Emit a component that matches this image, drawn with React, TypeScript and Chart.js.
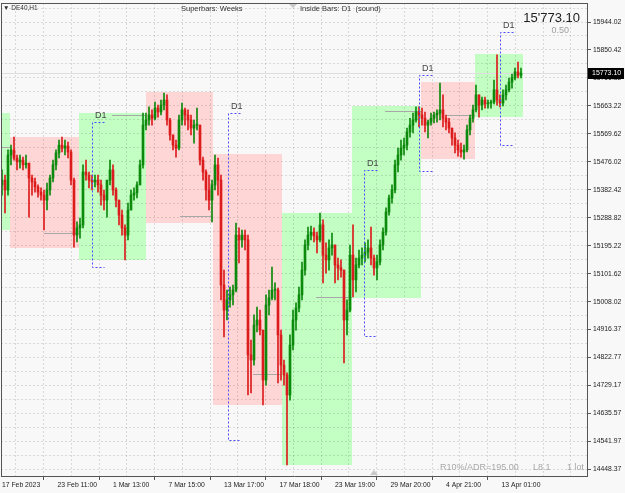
import React, { useEffect, useRef } from 'react';
import { Chart, registerables } from 'chart.js';

Chart.register(...registerables);

// ---- axis labels ----
const timeLabels = ['17 Feb 2023', '23 Feb 11:00', '1 Mar 13:00', '7 Mar 15:00', '13 Mar 17:00', '17 Mar 18:00', '23 Mar 19:00', '29 Mar 20:00', '4 Apr 21:00', '13 Apr 01:00'];
const priceLabels = ['15944.02', '15850.42', '15756.82', '15663.22', '15569.62', '15476.02', '15382.42', '15288.82', '15195.22', '15101.62', '15008.02', '14916.37', '14822.77', '14729.17', '14635.57', '14541.97', '14448.37'];

// ---- candles (open = previous close) ----
const firstOpen = 15399;
const highs = [15449, 15432, 15516, 15532, 15559, 15499, 15499, 15492, 15499, 15466, 15432, 15422, 15399, 15389, 15382, 15405, 15432, 15482, 15516, 15549, 15559, 15549, 15542, 15516, 15422, 15275, 15288, 15466, 15482, 15442, 15432, 15432, 15432, 15415, 15382, 15399, 15482, 15466, 15389, 15348, 15315, 15265, 15338, 15382, 15389, 15409, 15482, 15639, 15639, 15660, 15650, 15676, 15666, 15683, 15706, 15700, 15622, 15566, 15549, 15633, 15673, 15656, 15650, 15633, 15616, 15656, 15599, 15492, 15449, 15432, 15415, 15499, 15489, 15432, 15114, 15047, 15057, 15064, 15271, 15255, 15248, 15248, 15231, 14880, 14964, 14990, 14980, 14913, 15031, 15047, 15124, 15071, 15054, 14913, 14813, 14770, 14897, 14980, 15004, 15057, 15141, 15215, 15258, 15261, 15255, 15241, 15305, 15282, 15205, 15215, 15238, 15198, 15154, 15148, 15114, 15014, 15198, 15265, 15154, 15181, 15188, 15205, 15215, 15258, 15164, 15164, 15215, 15255, 15322, 15365, 15399, 15482, 15522, 15549, 15556, 15589, 15622, 15639, 15660, 15660, 15656, 15643, 15616, 15639, 15643, 15650, 15740, 15700, 15633, 15622, 15589, 15573, 15549, 15539, 15532, 15599, 15633, 15666, 15733, 15700, 15693, 15693, 15683, 15683, 15750, 15834, 15700, 15717, 15733, 15756, 15770, 15790, 15810, 15790];
const lows = [15365, 15305, 15365, 15466, 15482, 15449, 15455, 15449, 15455, 15291, 15365, 15375, 15358, 15348, 15248, 15315, 15365, 15409, 15449, 15489, 15509, 15499, 15489, 15399, 15191, 15208, 15221, 15255, 15415, 15389, 15382, 15392, 15375, 15331, 15315, 15291, 15399, 15365, 15325, 15265, 15231, 15148, 15215, 15315, 15348, 15355, 15399, 15455, 15583, 15599, 15599, 15616, 15626, 15633, 15650, 15599, 15549, 15516, 15492, 15516, 15599, 15599, 15583, 15566, 15539, 15583, 15466, 15415, 15348, 15315, 15275, 15382, 15365, 15014, 14890, 14947, 14990, 14997, 15041, 15138, 15191, 15181, 14696, 14703, 14796, 14907, 14897, 14663, 14729, 14964, 15014, 15014, 14736, 14746, 14729, 14462, 14679, 14847, 14913, 14974, 15014, 15097, 15181, 15215, 15208, 15171, 15208, 15071, 15104, 15114, 15164, 15071, 15081, 15090, 14803, 14897, 14974, 15024, 15041, 15121, 15131, 15141, 15154, 15131, 15097, 15081, 15131, 15181, 15231, 15298, 15338, 15372, 15442, 15482, 15499, 15516, 15559, 15573, 15609, 15593, 15599, 15576, 15556, 15599, 15606, 15609, 15616, 15593, 15583, 15573, 15532, 15506, 15495, 15492, 15485, 15509, 15566, 15609, 15643, 15626, 15650, 15656, 15656, 15656, 15670, 15666, 15660, 15663, 15683, 15710, 15723, 15750, 15757, 15757];
const closes = [15415, 15382, 15499, 15516, 15489, 15476, 15482, 15466, 15472, 15422, 15409, 15392, 15375, 15365, 15348, 15382, 15422, 15466, 15506, 15532, 15522, 15529, 15509, 15415, 15231, 15255, 15265, 15442, 15432, 15415, 15409, 15415, 15399, 15365, 15348, 15415, 15449, 15382, 15348, 15298, 15255, 15231, 15315, 15365, 15372, 15399, 15466, 15599, 15616, 15633, 15622, 15656, 15643, 15666, 15683, 15616, 15566, 15532, 15522, 15616, 15650, 15633, 15616, 15589, 15599, 15599, 15482, 15442, 15382, 15348, 15399, 15466, 15415, 15064, 14980, 15014, 15031, 15047, 15231, 15215, 15231, 15215, 14830, 14813, 14930, 14947, 14913, 14746, 14997, 15021, 15047, 15047, 14897, 14796, 14763, 14696, 14863, 14947, 14987, 15031, 15114, 15198, 15231, 15241, 15228, 15215, 15265, 15164, 15148, 15188, 15198, 15131, 15121, 15114, 14947, 14980, 15164, 15081, 15131, 15154, 15164, 15174, 15188, 15154, 15121, 15141, 15198, 15241, 15308, 15355, 15382, 15466, 15499, 15522, 15532, 15576, 15599, 15616, 15643, 15633, 15622, 15599, 15609, 15622, 15633, 15639, 15650, 15622, 15609, 15589, 15556, 15532, 15516, 15509, 15516, 15583, 15622, 15650, 15700, 15666, 15683, 15670, 15673, 15676, 15717, 15683, 15673, 15700, 15717, 15743, 15757, 15777, 15766, 15773.1];

// ---- weekly superbars ----
const weekEdges = [-0.67, 2.5, 25.5, 48, 70.5, 93.5, 116.5, 139.5, 157.5, 173.5];
const weekHighs = [15639, 15559, 15639, 15710, 15502, 15305, 15663, 15743, 15837];
const weekLows = [15248, 15188, 15148, 15271, 14663, 14462, 15021, 15485, 15626];
const weekUp = [true, false, true, false, false, true, true, false, true];
const weekLineStart = [0, 14, 36.67, 59.33, 83.67, 104.67, 127.67, 148];
const weekLineLevel = [15525, 15238, 15633, 15295, 14766, 15024, 15646, 15633];

// ---- D1 inside-bar markers ----
const d1Start = [30, 75.33, 120.67, 139, 166];
const d1End = [34, 79.33, 125, 143.33, 170.33];
const d1High = [15609, 15639, 15449, 15766, 15910];
const d1Low = [15124, 14545, 14893, 15445, 15532];

const UP = '#0c8a0c';
const DOWN = '#dc1c1c';
const FONT = '"Liberation Sans", Arial, sans-serif';

export default function App() {
  const ref = useRef<HTMLCanvasElement>(null);
  useEffect(() => {
    document.body.style.margin = '0';
    const canvas = ref.current as HTMLCanvasElement;
    const opens = closes.map((c, i) => (i === 0 ? firstOpen : closes[i - 1]));
    const colors = closes.map((c, i) => (c >= opens[i] ? UP : DOWN));
    const bodies = closes.map((c, i) => ({ x: i, y: [opens[i], c] }));
    const wicks = closes.map((c, i) => ({ x: i, y: [lows[i], highs[i]] }));

    const majors = priceLabels.map(Number);
    const yTicks: any[] = [];
    yTicks.push({ value: majors[0] + (majors[0] - majors[1]) / 2, label: '' });
    majors.forEach((v, i) => {
      yTicks.push({ value: v, label: priceLabels[i] });
      if (i < majors.length - 1) yTicks.push({ value: (v + majors[i + 1]) / 2, label: '' });
    });
    yTicks.sort((a, b) => a.value - b.value);

    const xTicks: any[] = [];
    for (let k = 0; k <= 21; k++) {
      xTicks.push({ value: 9.25 * k, label: k % 2 === 0 ? timeLabels[k / 2] || '' : '' });
    }

    const bgPlugin = {
      id: 'bgBoxes',
      beforeDraw(chart: any) {
        const { ctx, chartArea: ca, scales } = chart;
        const x = scales.x, y = scales.y;
        ctx.save();
        ctx.fillStyle = '#f8f8f8';
        ctx.fillRect(0, 0, chart.width, chart.height);
        ctx.beginPath();
        ctx.rect(ca.left, ca.top, ca.right - ca.left, ca.bottom - ca.top);
        ctx.clip();
        for (let k = 0; k < weekHighs.length; k++) {
          const x0 = Math.round(x.getPixelForValue(weekEdges[k]));
          const x1 = Math.round(x.getPixelForValue(weekEdges[k + 1]));
          const y0 = Math.round(y.getPixelForValue(weekHighs[k]));
          const y1 = Math.round(y.getPixelForValue(weekLows[k]));
          ctx.fillStyle = weekUp[k] ? '#c3fec3' : '#ffd6d6';
          ctx.fillRect(x0, y0, x1 - x0, y1 - y0);
        }
        ctx.restore();
      },
      beforeDatasetsDraw(chart: any) {
        const { ctx, chartArea: ca, scales } = chart;
        const x = scales.x, y = scales.y;
        ctx.save();
        ctx.beginPath();
        ctx.rect(ca.left, ca.top, ca.right - ca.left, ca.bottom - ca.top);
        ctx.clip();
        ctx.strokeStyle = '#a8a8a8';
        ctx.lineWidth = 1;
        for (let k = 0; k < weekLineLevel.length; k++) {
          const yy = Math.round(y.getPixelForValue(weekLineLevel[k])) + 0.5;
          ctx.beginPath();
          ctx.moveTo(Math.round(x.getPixelForValue(weekLineStart[k])), yy);
          ctx.lineTo(Math.round(x.getPixelForValue(weekEdges[k + 1])), yy);
          ctx.stroke();
        }
        const by = Math.round(y.getPixelForValue(closes[closes.length - 1])) + 0.5;
        ctx.strokeStyle = '#dedede';
        ctx.beginPath();
        ctx.moveTo(ca.left, by);
        ctx.lineTo(ca.right, by);
        ctx.stroke();
        ctx.restore();
      },
      afterDraw(chart: any) {
        const { ctx, chartArea: ca, scales } = chart;
        const x = scales.x, y = scales.y;
        ctx.save();
        // frame
        ctx.strokeStyle = '#555';
        ctx.lineWidth = 1;
        ctx.beginPath();
        ctx.moveTo(ca.left + 0.5, ca.top);
        ctx.lineTo(ca.left + 0.5, ca.bottom);
        ctx.moveTo(ca.left, ca.top + 0.5);
        ctx.lineTo(ca.right, ca.top + 0.5);
        ctx.stroke();
        // D1 markers
        ctx.strokeStyle = '#4a4aff';
        ctx.setLineDash([2, 2]);
        ctx.textBaseline = 'middle';
        for (let k = 0; k < d1Start.length; k++) {
          const xl = Math.round(x.getPixelForValue(d1Start[k])) + 0.5;
          const xr = Math.round(x.getPixelForValue(d1End[k])) + 0.5;
          const yt = Math.round(y.getPixelForValue(d1High[k])) + 0.5;
          const yb = Math.round(y.getPixelForValue(d1Low[k])) + 0.5;
          ctx.beginPath();
          ctx.moveTo(xr, yt);
          ctx.lineTo(xl, yt);
          ctx.lineTo(xl, yb);
          ctx.lineTo(xr, yb);
          ctx.stroke();
          ctx.fillStyle = '#444';
          ctx.font = '9px ' + FONT;
          ctx.textAlign = 'left';
          ctx.fillText('D1', xl + 2.5, yt - 7);
        }
        ctx.setLineDash([]);
        // chart-shift markers
        ctx.fillStyle = '#c8c8c8';
        ctx.beginPath();
        ctx.moveTo(289, 4); ctx.lineTo(297, 4); ctx.lineTo(293, 8); ctx.closePath(); ctx.fill();
        ctx.beginPath();
        ctx.moveTo(370, 475); ctx.lineTo(378, 475); ctx.lineTo(374, 470); ctx.closePath(); ctx.fill();
        // price box on axis
        const last = closes[closes.length - 1];
        const py = Math.round(y.getPixelForValue(last));
        ctx.fillStyle = '#000';
        ctx.fillRect(ca.right + 1, py - 5, 36, 11);
        ctx.fillStyle = '#fff';
        ctx.font = '7px ' + FONT;
        ctx.textAlign = 'left';
        ctx.fillText(last.toFixed(2), ca.right + 5, py + 0.5);
        // header texts
        ctx.fillStyle = '#333';
        ctx.font = '6.5px ' + FONT;
        ctx.fillText('▼ DE40,H1', 3, 8);
        ctx.font = '7.5px ' + FONT;
        ctx.fillText('Superbars: Weeks', 181, 8.5);
        ctx.fillText('Inside Bars: D1  (sound)', 300, 8.5);
        ctx.fillStyle = '#222';
        ctx.font = '13px ' + FONT;
        ctx.textAlign = 'right';
        ctx.fillText("15'773.10", 580, 18.5);
        ctx.fillStyle = '#a0a0a0';
        ctx.font = '9px ' + FONT;
        ctx.fillText('0.50', 569, 30.5);
        // footer texts
        ctx.fillStyle = '#a8a8a8';
        ctx.font = '9px ' + FONT;
        ctx.textAlign = 'left';
        ctx.fillText('R10%/ADR=195.00', 440, 468);
        ctx.fillText('L8.1', 533, 468);
        ctx.textAlign = 'right';
        ctx.fillText('1 lot', 584, 468);
        ctx.restore();
      },
    };

    const gridColor = 'rgba(0,0,0,0.12)';
    const chart = new Chart(canvas, {
      type: 'bar',
      data: {
        datasets: [
          { data: wicks as any, backgroundColor: colors, barThickness: 1, grouped: false, order: 2 } as any,
          { data: bodies as any, backgroundColor: colors, barThickness: 2, grouped: false, minBarLength: 1, order: 1 } as any,
        ],
      },
      options: {
        responsive: false,
        animation: false,
        devicePixelRatio: 1,
        layout: { padding: { left: 1, top: 3, right: 0, bottom: 0 } },
        plugins: { legend: { display: false }, tooltip: { enabled: false } },
        scales: {
          x: {
            type: 'linear',
            min: -1 / 3,
            max: 195,
            offset: false,
            afterBuildTicks: (s: any) => { s.ticks = xTicks.map((t) => ({ value: t.value })); },
            afterFit: (s: any) => { s.height = 17; s.paddingLeft = 0; s.paddingRight = 0; },
            ticks: {
              autoSkip: false, maxRotation: 0, minRotation: 0, align: 'start', padding: 1,
              color: '#222', font: { family: FONT, size: 6.8 },
              callback: (_v: any, i: number) => (xTicks[i] ? xTicks[i].label : ''),
            },
            grid: {
              color: gridColor, lineWidth: 1, tickLength: 4, tickBorderDash: [],
              tickColor: (c: any) => (xTicks[c.index] && xTicks[c.index].label ? '#555' : 'rgba(0,0,0,0)'),
            },
            border: { display: true, color: '#555', dash: [2, 2] },
          } as any,
          y: {
            type: 'linear',
            position: 'right',
            min: 14424.95,
            max: 16007.6,
            afterBuildTicks: (s: any) => { s.ticks = yTicks.map((t) => ({ value: t.value })); },
            afterFit: (s: any) => { s.width = 38; s.paddingTop = 0; s.paddingBottom = 0; },
            ticks: {
              autoSkip: false, padding: 2, color: '#222', font: { family: FONT, size: 6.8 },
              crossAlign: 'near',
              callback: (_v: any, i: number) => (yTicks[i] ? yTicks[i].label : ''),
            },
            grid: {
              color: gridColor, lineWidth: 1, tickLength: 4, tickBorderDash: [],
              tickColor: (c: any) => (yTicks[c.index] && yTicks[c.index].label ? '#555' : 'rgba(0,0,0,0)'),
            },
            border: { display: true, color: '#555', dash: [2, 2] },
          } as any,
        },
      },
      plugins: [bgPlugin],
    } as any);
    return () => chart.destroy();
  }, []);

  return (
    <div style={{ width: 625, height: 493 }}>
      <canvas ref={ref} width={625} height={493} style={{ width: 625, height: 493, display: 'block' }} />
    </div>
  );
}
